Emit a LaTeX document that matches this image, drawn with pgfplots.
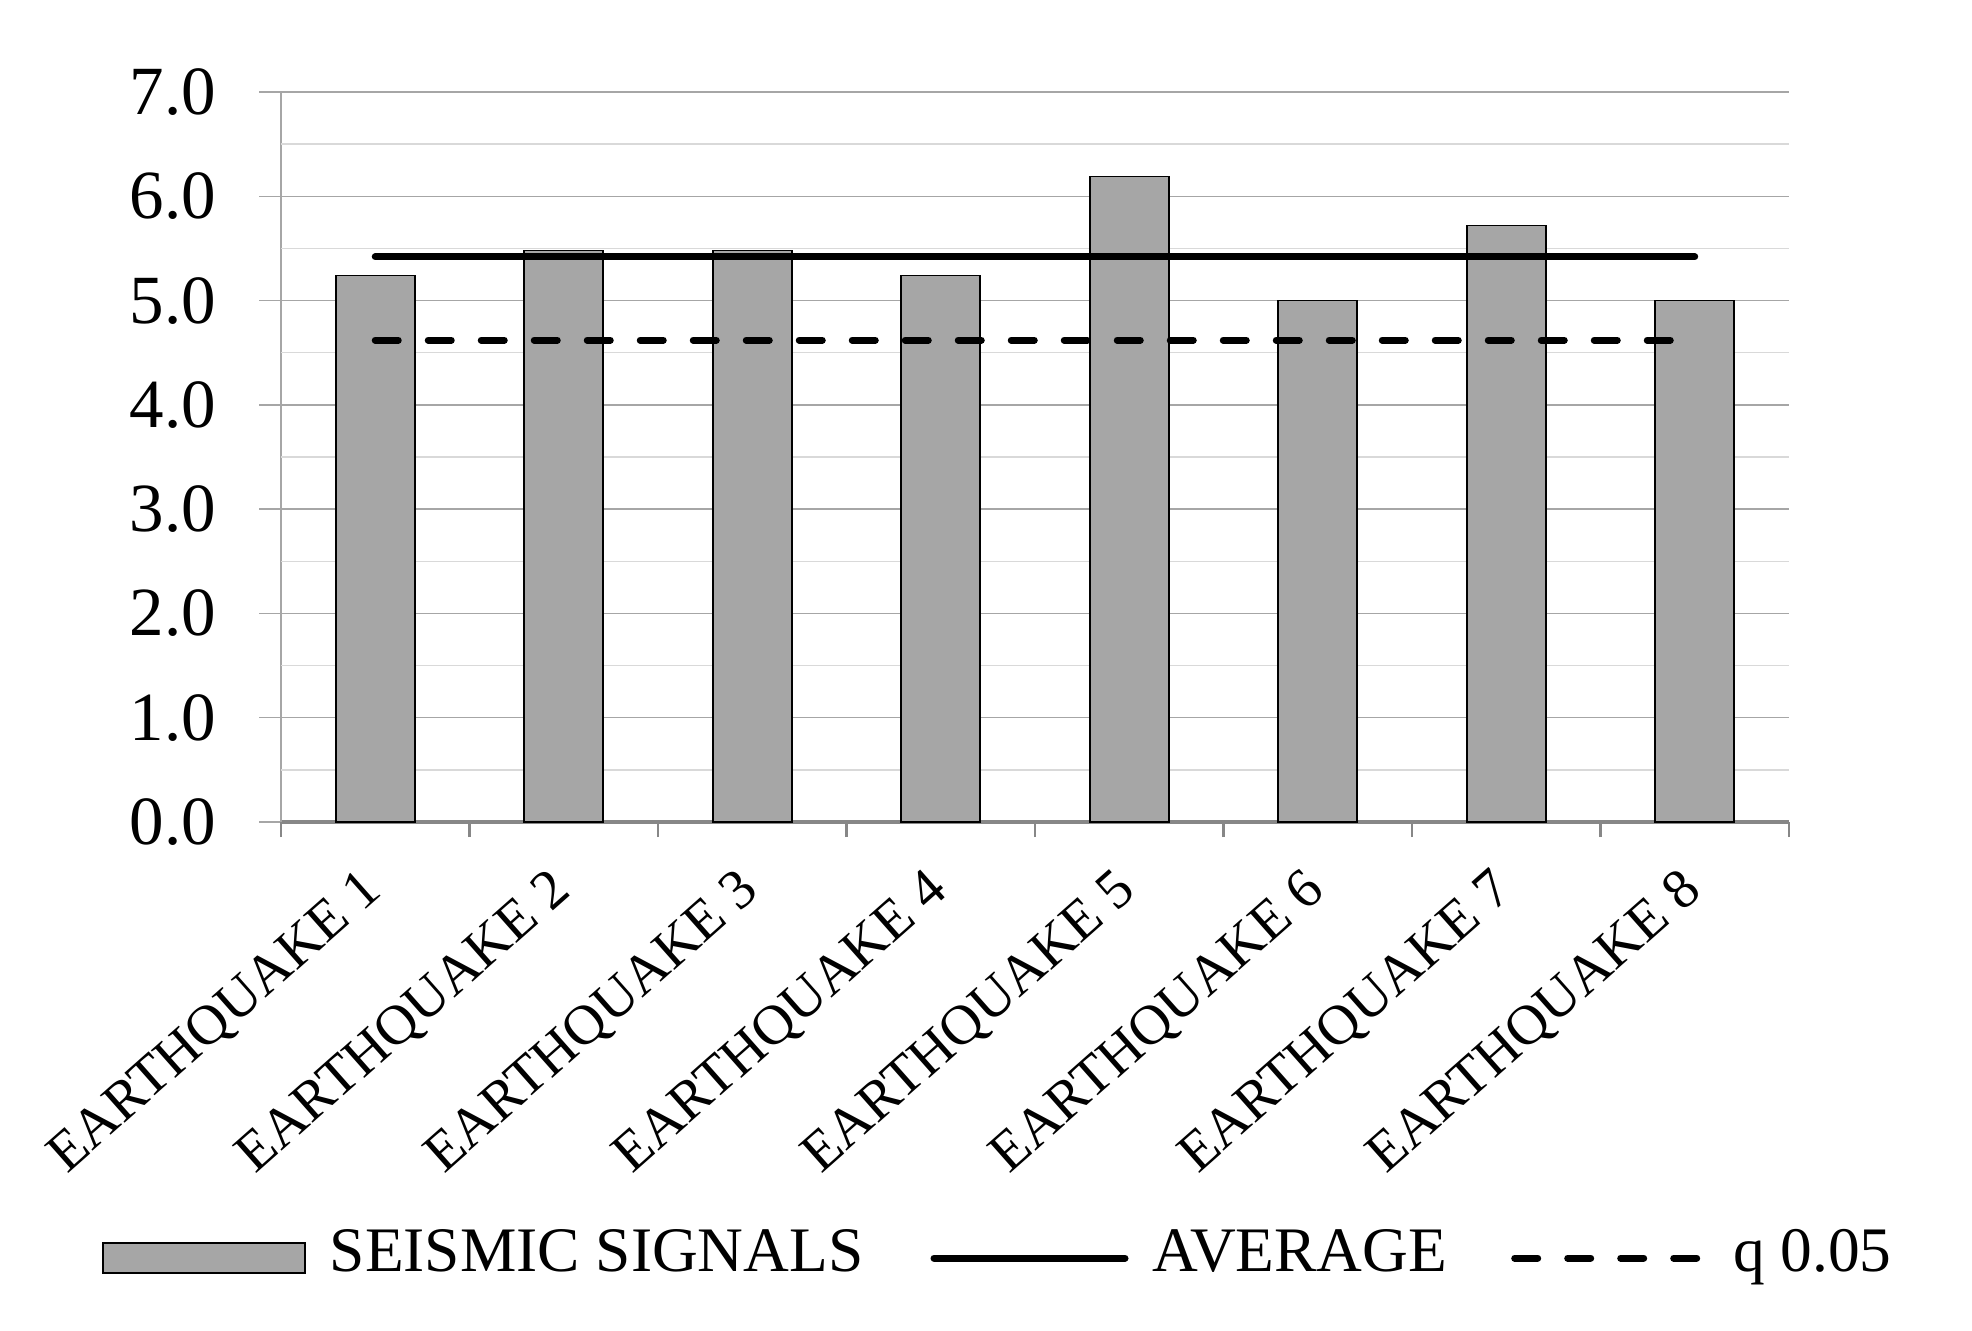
\documentclass[border=0pt]{standalone}
\usepackage{fontspec}
\setmainfont{Liberation Serif}
\usepackage{pgfplots}
\usepackage{pgfplotstable}
\pgfplotsset{compat=1.18}
\definecolor{barfill}{HTML}{A6A6A6}
\definecolor{gridmajor}{HTML}{A6A6A6}
\definecolor{gridminor}{HTML}{D9D9D9}
\definecolor{axisdark}{HTML}{878787}

\pgfplotstableread{
x y
1 5.24
2 5.48
3 5.48
4 5.24
5 6.19
6 5.00
7 5.72
8 5.00
}\bars

\begin{document}
\begin{tikzpicture}
\useasboundingbox (0,0) rectangle (493pt,332.5pt);
\begin{axis}[
  at={(70.25pt,127pt)}, anchor=south west,
  scale only axis, width=377pt, height=182.5pt,
  xmin=0.5, xmax=8.5, ymin=0, ymax=7,
  axis lines=left,
  x axis line style={-, draw=axisdark, line width=1pt},
  y axis line style={-, draw=gridmajor, line width=0.45pt},
  tick align=outside,
  major tick length=5.5pt,
  xtick={1,2,3,4,5,6,7,8},
  xticklabels={EARTHQUAKE 1,EARTHQUAKE 2,EARTHQUAKE 3,EARTHQUAKE 4,EARTHQUAKE 5,EARTHQUAKE 6,EARTHQUAKE 7,EARTHQUAKE 8},
  xtick style={draw=none},
  extra x ticks={0.5,1.5,2.5,3.5,4.5,5.5,6.5,7.5,8.5},
  extra x tick labels={},
  extra x tick style={xtick style={draw=axisdark, line width=0.6pt}, major tick length=3.75pt},
  xticklabel style={font=\fontsize{14.05}{16}\selectfont, xshift=-4pt, rotate=41.5, anchor=north east, inner sep=0pt},
  xticklabel shift=5.25pt,
  ytick={0,1,2,3,4,5,6,7},
  yticklabels={0.0,1.0,2.0,3.0,4.0,5.0,6.0,7.0},
  ytick style={draw=gridmajor, line width=0.33pt},
  yticklabel style={font=\fontsize{17.25}{20}\selectfont, inner sep=0pt},
  yticklabel shift=10.5pt,
  /pgf/number format/assume math mode=true,
  ymajorgrids,
  major grid style={draw=gridmajor, line width=0.33pt},
  extra y ticks={0.5,1.5,2.5,3.5,4.5,5.5,6.5},
  extra y tick labels={},
  extra y tick style={ymajorgrids=true, major grid style={draw=gridminor, line width=0.33pt}, ytick style={draw=none}},
  legend columns=3,
  legend style={at={(0.4748,-0.5973)}, anchor=center, draw=none, fill=none,
    font=\fontsize{15.85}{18}\selectfont,
    nodes={inner sep=0pt, text height=0.676em, text depth=0pt},
    /tikz/every odd column/.append style={column sep=6pt},
    /tikz/every even column/.append style={column sep=15pt}},
]
\addplot[ybar, bar width=19.75pt, fill=barfill, draw=black, line width=0.4pt,
  legend image code/.code={\draw[fill=barfill,draw=black,line width=0.4pt] (0pt,-3.75pt) rectangle (50.5pt,3.75pt);}]
  table[x=x,y=y]{\bars};
\addlegendentry{SEISMIC SIGNALS\hspace*{1.75pt}}
\addplot[black, line width=1.75pt, line cap=round,
  legend image code/.code={\draw[black,line width=1.75pt,line cap=round] (0pt,0pt) -- (47.75pt,0pt);}]
  coordinates {(1,5.42) (8,5.42)};
\addlegendentry{AVERAGE\hspace*{1pt}}
\addplot[black, line width=1.75pt, line cap=round, dash pattern=on 5.75pt off 7.5pt,
  legend image code/.code={\draw[black,line width=1.75pt,line cap=round,dash pattern=on 5.75pt off 7.5pt] (0pt,0pt) -- (47.75pt,0pt);}]
  coordinates {(1,4.62) (8,4.62)};
\addlegendentry{q 0.05}
\node[anchor=west, inner sep=0pt, font=\fontsize{17.5}{20}\selectfont, xshift=2pt] at (axis cs:8.5,5.42) {5.42};
\node[anchor=west, inner sep=0pt, font=\fontsize{17.5}{20}\selectfont, xshift=2pt] at (axis cs:8.5,4.62) {4.62};
\end{axis}
\end{tikzpicture}
\end{document}
